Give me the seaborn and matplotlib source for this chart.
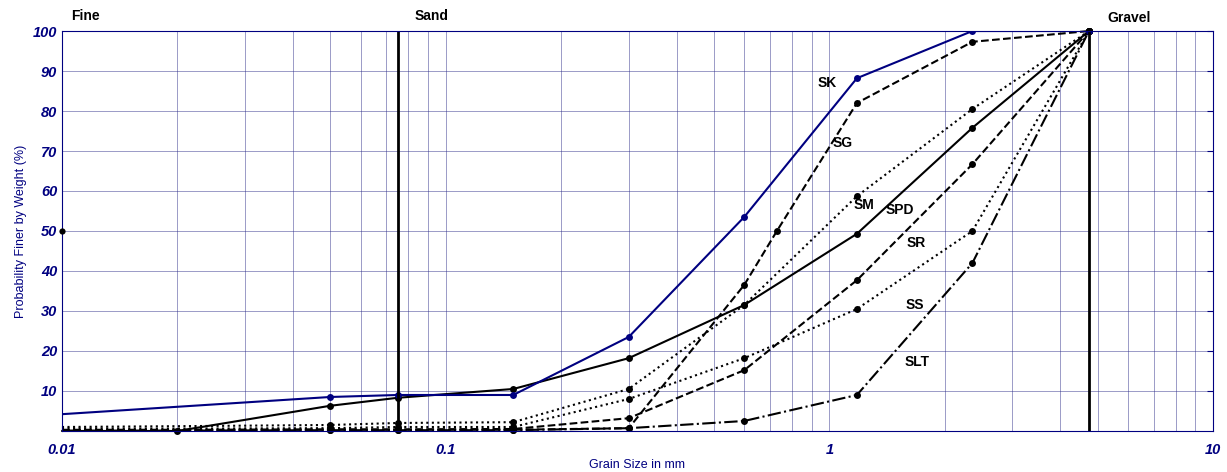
import pandas as pd
import matplotlib.pyplot as plt
import seaborn as sns

sns.set_style('white')
plt.rcParams['font.family'] = ['Liberation Sans', 'DejaVu Sans']
plt.rcParams['text.color'] = 'black'

sieve = [0.01, 0.02, 0.05, 0.075, 0.15, 0.3, 0.6, 1.18, 2.36, 4.75]

sk_x = [0.01, 0.05, 0.075, 0.15, 0.3, 0.6, 1.18, 2.36, 4.75]
sk_y = [4.2, 8.5, 9.0, 9.0, 23.5, 53.5, 88.2, 100, 100]

spd_y = [0.0, 0.0, 6.3, 8.3, 10.5, 18.2, 31.5, 49.3, 75.8, 100]
sm_y = [1.0, 1.2, 1.5, 2.0, 2.2, 10.5, 31.5, 58.7, 80.5, 100]
ss_y = [0.6, 0.6, 0.7, 1.0, 1.0, 8.0, 18.2, 30.5, 50.0, 100]
sr_y = [0.3, 0.3, 0.4, 0.4, 0.5, 3.2, 15.2, 37.7, 66.7, 100]
slt_y = [0.1, 0.1, 0.2, 0.2, 0.2, 0.7, 2.5, 9.0, 42.0, 100]

sg_x = [0.01, 0.02, 0.05, 0.075, 0.15, 0.3, 0.6, 0.73, 1.18, 2.36, 4.75]
sg_y = [0.2, 0.2, 0.3, 0.3, 0.3, 0.7, 36.5, 50.0, 82.0, 97.3, 100]

d50_x = [0.01]
d50_y = [50]

labels = ['SK', 'SG', 'SM', 'SPD', 'SR', 'SS', 'SLT']
label_x = [0.99, 1.08, 1.23, 1.53, 1.68, 1.67, 1.69]
label_y = [87, 72, 56.5, 55.2, 47, 31.5, 17.2]

navy = '#000080'
fig = plt.figure(figsize=(12.27, 4.72), dpi=100)
ax = fig.add_axes([0.0505, 0.0869, 0.9381, 0.8474])

# (x, y, linestyle, first marked point)
series = [
    (sieve, spd_y, '-', 1),
    (sieve, sm_y, ':', 2),
    (sieve, ss_y, ':', 2),
    (sieve, sr_y, '--', 2),
    (sieve, slt_y, '-.', 2),
    (sg_x, sg_y, '--', 2),
]
for xs, ys, ls, first in series:
    df = pd.DataFrame({'x': xs, 'y': ys})
    sns.lineplot(data=df, x='x', y='y', ax=ax, color='black', linestyle=ls, lw=1.5,
                 marker='o', markersize=5, markeredgewidth=0, estimator=None,
                 markevery=list(range(first, len(xs))), clip_on=False)

df_sk = pd.DataFrame({'x': sk_x, 'y': sk_y})
sns.lineplot(data=df_sk, x='x', y='y', ax=ax, color=navy, lw=1.5, marker='o',
             markersize=5, markeredgewidth=0, estimator=None,
             markevery=list(range(1, len(sk_x))))
sns.scatterplot(x=d50_x, y=d50_y, ax=ax, color='black', s=20, linewidth=0, clip_on=False, zorder=5)

ax.axvline(0.075, color='black', lw=2)
ax.axvline(4.75, color='black', lw=2)

ax.set_xscale('log')
ax.set_xlim(0.01, 10)
ax.set_ylim(0, 100)
ax.set_yticks(range(10, 101, 10))
ax.set_xticks([0.01, 0.1, 1, 10])
ax.set_xticklabels(['0.01', '0.1', '1', '10'])
ax.grid(True, which='both', color='#2a2a88', lw=0.6, alpha=0.55)
for s in ax.spines.values():
    s.set_color(navy)
ax.tick_params(which='both', direction='in', colors=navy, top=False, right=True, length=4)
ax.tick_params(axis='x', which='major', pad=9)
for t in ax.get_xticklabels() + ax.get_yticklabels():
    t.set_fontweight('bold')
    t.set_fontstyle('italic')
    t.set_fontsize(10.5)
    t.set_color(navy)

ax.set_xlabel('Grain Size in mm', color=navy, fontsize=9, labelpad=1)
ax.set_ylabel('Probability Finer by Weight (%)', color=navy, fontsize=9, labelpad=4)

for name, lx, ly in zip(labels, label_x, label_y):
    ax.text(lx, ly, name, fontsize=10, fontweight='bold', ha='center', va='center', color='black')

fig.text(85 / 1227, 1 - 16 / 472, 'Fine', fontsize=10, fontweight='bold', ha='center', va='center')
fig.text(432 / 1227, 1 - 16 / 472, 'Sand', fontsize=10, fontweight='bold', ha='center', va='center')
fig.text(1129 / 1227, 1 - 18 / 472, 'Gravel', fontsize=10, fontweight='bold', ha='center', va='center')

fig.savefig('out.png', dpi=100)
